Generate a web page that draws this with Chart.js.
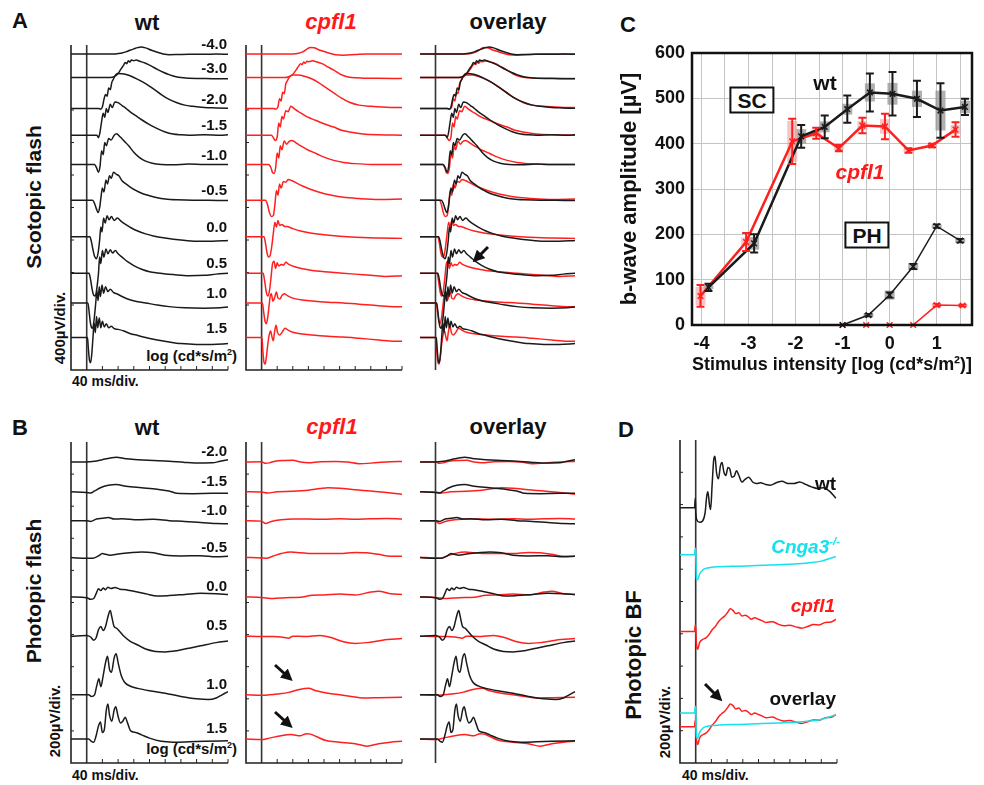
<!DOCTYPE html>
<html>
<head>
<meta charset="utf-8">
<script src="https://cdn.jsdelivr.net/npm/chart.js@4.4.1/dist/chart.umd.min.js"></script>
<style>
  body { margin: 0; background: #fff; }
  #fig { position: relative; width: 984px; height: 785px; overflow: hidden;
         font-family: "Liberation Sans", Arial, sans-serif; font-weight: bold; color: #111; }
  #fig canvas { position: absolute; }
  .t, .r, .l, .v { position: absolute; white-space: nowrap; line-height: 1; }
  .t { transform: translate(-50%, -50%); }
  .r { transform: translate(-100%, -50%); }
  .l { transform: translate(0, -50%); }
  .v { transform: translate(-50%, -50%) rotate(-90deg); }
  .red { color: #ff1a1a; font-style: italic; }
  .cyan { color: #12e2ee; font-style: italic; }
  .box { border: 2px solid #111; background: #fff; padding: 1px 6px; }
  sup { font-size: 60%; }
</style>
</head>
<body>
<div id="fig">
  <div class="t" style="left:20px;top:21px;font-size:22px">A</div>
  <div class="t" style="left:147px;top:23px;font-size:22px">wt</div>
  <div class="t red" style="left:331px;top:22px;font-size:22px">cpfl1</div>
  <div class="t" style="left:508px;top:22px;font-size:22px">overlay</div>
  <div class="v" style="left:33px;top:197px;font-size:21px">Scotopic flash</div>
  <div class="v" style="left:59px;top:328px;font-size:15px">400µV/div.</div>
  <div class="l" style="left:72px;top:381px;font-size:14px">40 ms/div.</div>
  <div class="r" style="left:237px;top:355px;font-size:15px">log (cd*s/m<sup>2</sup>)</div>

  <div class="t" style="left:20px;top:428px;font-size:22px">B</div>
  <div class="t" style="left:147px;top:428px;font-size:22px">wt</div>
  <div class="t red" style="left:332px;top:427px;font-size:22px">cpfl1</div>
  <div class="t" style="left:508px;top:427px;font-size:22px">overlay</div>
  <div class="v" style="left:33px;top:591px;font-size:21px">Photopic flash</div>
  <div class="v" style="left:54px;top:721px;font-size:15px">200µV/div.</div>
  <div class="l" style="left:72px;top:775px;font-size:14px">40 ms/div.</div>
  <div class="r" style="left:237px;top:748px;font-size:15px">log (cd*s/m<sup>2</sup>)</div>

  <div class="t" style="left:628px;top:25px;font-size:22px">C</div>

  <div class="t" style="left:626px;top:430px;font-size:22px">D</div>
  <div class="v" style="left:634px;top:655px;font-size:22px">Photopic BF</div>
  <div class="v" style="left:664px;top:722px;font-size:15px">200µV/div.</div>
  <div class="l" style="left:682px;top:775px;font-size:14px">40 ms/div.</div>
</div>
<script>
// ---------- scotopic flash traces (ms, µV re. baseline) ----------
const scotLabels = ['-4.0', '-3.0', '-2.0', '-1.5', '-1.0', '-0.5', '0.0', '0.5', '1.0', '1.5'];

const wtS_m40 = [[-40,0],[70,0],[80,5],[90,12],[100,25],[110,45],[120,62],[130,78],[138,86],[150,75],[165,45],[180,20],[195,0],[210,-10],[230,-8],[260,-3],[300,-5],[330,-2],[360,-3]];
const wtS_m30 = [[-40,0],[60,0],[70,10],[80,50],[88,110],[94,150],[98,185],[102,170],[106,205],[110,190],[114,215],[120,205],[126,215],[135,200],[150,175],[165,140],[180,100],[195,65],[210,35],[225,12],[240,0],[260,-10],[290,-12],[320,-15],[360,-15]];
const wtS_m20 = [[-40,0],[30,0],[36,-10],[40,20],[44,110],[48,170],[52,150],[56,250],[60,230],[64,320],[68,360],[72,400],[78,430],[90,425],[105,410],[120,380],[135,345],[150,305],[170,240],[190,170],[210,110],[230,70],[250,40],[270,25],[300,10],[330,5],[360,0]];
const wtS_m15 = [[-40,0],[26,0],[30,-30],[34,40],[38,170],[42,270],[46,220],[50,330],[54,280],[60,380],[65,340],[72,410],[80,400],[90,365],[100,330],[110,290],[125,240],[140,190],[160,130],[180,80],[200,40],[220,15],[240,5],[260,0],[300,5],[340,0],[360,5]];
const wtS_m10 = [[-40,0],[20,0],[25,-40],[30,-95],[34,-20],[38,170],[42,120],[46,270],[50,230],[56,320],[62,300],[70,360],[76,377],[85,340],[95,290],[107,230],[120,150],[133,90],[150,40],[167,15],[190,0],[220,-5],[260,5],[300,0],[360,0]];
const wtS_m05 = [[-40,0],[15,0],[20,-40],[25,-110],[29,-150],[33,-90],[37,60],[40,150],[44,100],[49,250],[53,200],[58,300],[63,270],[68,345],[75,320],[82,300],[90,240],[100,200],[110,165],[125,120],[140,85],[160,55],[180,30],[200,15],[230,5],[270,0],[310,0],[360,-5]];
const wtS_p00 = [[-40,0],[8,0],[12,-60],[16,-160],[20,-240],[25,-270],[29,-200],[33,-40],[36,120],[39,60],[43,230],[47,170],[52,260],[57,210],[63,250],[70,200],[78,230],[88,190],[100,150],[115,105],[130,70],[150,35],[170,10],[200,-15],[240,-40],[280,-55],[320,-55],[360,-45]];
const wtS_p05 = [[-40,0],[6,0],[10,-80],[14,-200],[18,-270],[22,-280],[26,-180],[30,0],[33,200],[36,120],[40,280],[44,200],[49,300],[54,240],[60,290],[66,250],[73,280],[80,240],[90,200],[105,140],[120,95],[140,50],[160,20],[180,5],[220,-15],[260,-30],[300,-25],[330,-10],[360,0]];
const wtS_p10 = [[-40,0],[3,0],[6,-100],[9,-230],[12,-300],[15,-310],[19,-200],[23,0],[26,150],[29,30],[32,200],[35,80],[39,220],[43,120],[48,200],[54,140],[60,170],[68,130],[78,110],[90,80],[110,40],[130,15],[150,0],[180,-25],[210,-45],[250,-60],[300,-65],[340,-60],[360,-50]];
const wtS_p15 = [[-40,0],[2,0],[4,-120],[7,-280],[10,-310],[13,-200],[16,0],[19,180],[22,60],[25,260],[28,120],[32,240],[36,120],[40,200],[45,130],[50,170],[56,120],[63,140],[70,110],[80,100],[95,80],[110,50],[130,25],[150,0],[180,-30],[210,-55],[240,-75],[280,-85],[320,-85],[360,-75]];

const cpS_m40 = [[-40,0],[80,0],[95,8],[105,25],[115,55],[125,80],[135,75],[150,45],[170,15],[190,-10],[210,-16],[240,-8],[270,0],[360,0]];
const cpS_m30 = [[-40,0],[60,0],[70,10],[80,40],[88,90],[95,140],[100,170],[104,160],[108,190],[112,175],[116,200],[122,195],[130,205],[140,195],[155,170],[170,130],[185,90],[200,45],[215,15],[230,0],[260,-8],[300,-10],[360,-12]];
const cpS_m20 = [[-40,0],[30,0],[36,-10],[42,20],[46,120],[50,90],[54,200],[58,180],[62,300],[66,340],[72,390],[80,410],[95,410],[110,395],[125,370],[145,320],[165,255],[185,190],[205,125],[225,75],[250,40],[280,25],[320,15],[360,10]];
const cpS_m15 = [[-40,0],[25,0],[30,-30],[35,-65],[40,-20],[44,150],[48,100],[52,230],[56,200],[62,300],[68,290],[75,357],[85,320],[100,275],[117,225],[140,180],[160,140],[185,100],[205,60],[230,35],[260,15],[300,5],[360,0]];
const cpS_m10 = [[-40,0],[18,0],[24,-40],[28,-100],[32,-110],[36,-40],[40,140],[44,80],[48,230],[52,180],[58,290],[64,250],[70,280],[78,295],[90,260],[105,215],[120,175],[140,135],[160,90],[185,50],[210,25],[240,10],[280,0],[360,0]];
const cpS_m05 = [[-40,0],[10,0],[15,-50],[20,-150],[25,-200],[30,-190],[34,-60],[38,120],[42,60],[46,200],[50,150],[56,230],[62,220],[68,255],[78,240],[90,210],[105,175],[125,135],[150,95],[180,60],[210,35],[250,20],[300,10],[360,15]];
const cpS_p00 = [[-40,0],[6,0],[10,-80],[14,-200],[18,-250],[22,-230],[26,-120],[30,40],[34,180],[38,120],[42,200],[46,140],[52,150],[58,130],[66,125],[80,100],[100,70],[125,45],[150,30],[180,15],[220,0],[260,-10],[300,-15],[360,-20]];
const cpS_p05 = [[-40,0],[4,0],[8,-100],[12,-230],[16,-280],[20,-220],[24,-60],[28,120],[32,150],[36,60],[40,130],[44,90],[50,110],[56,100],[62,135],[70,110],[85,80],[105,55],[130,35],[160,20],[200,5],[240,-10],[280,-25],[320,-40],[360,-30]];
const cpS_p10 = [[-40,0],[2,0],[5,-100],[9,-230],[12,-255],[15,-200],[19,-40],[22,80],[25,115],[29,20],[33,60],[38,135],[42,60],[47,50],[52,90],[58,115],[66,90],[80,60],[100,40],[130,25],[170,10],[210,0],[250,-15],[300,-35],[340,-45],[360,-45]];
const cpS_p15 = [[-40,0],[1,0],[3,-150],[6,-300],[9,-330],[12,-250],[16,-80],[19,20],[23,80],[27,0],[30,-40],[33,60],[37,150],[41,60],[46,30],[52,60],[60,115],[68,90],[80,65],[100,45],[130,30],[170,15],[210,5],[250,-10],[300,-30],[340,-45],[360,-45]];

// ---------- photopic flash traces ----------
const photLabels = ['-2.0', '-1.5', '-1.0', '-0.5', '0.0', '0.5', '1.0', '1.5'];

const wtP_m20 = [[-40,0],[0,0],[20,5],[40,15],[60,25],[75,30],[100,20],[130,15],[170,10],[210,5],[250,-2],[290,-6],[320,-5],[340,5],[360,15]];
const wtP_m15 = [[-40,0],[0,-5],[10,-8],[20,5],[35,25],[55,40],[75,45],[100,35],[140,25],[180,15],[210,5],[230,-10],[270,-12],[320,-10],[360,-10]];
const wtP_m10 = [[-40,0],[0,0],[10,-5],[25,10],[40,15],[55,20],[70,10],[90,12],[130,5],[170,8],[210,0],[250,-5],[290,-12],[330,-18],[360,-20]];
const wtP_m05 = [[-40,0],[0,-5],[15,-5],[30,10],[40,25],[48,20],[60,15],[80,22],[110,30],[140,35],[170,30],[200,15],[240,10],[290,12],[330,5],[360,8]];
const wtP_p00 = [[-40,0],[0,-5],[10,-15],[18,-10],[24,20],[30,50],[36,40],[42,55],[48,45],[54,60],[62,52],[72,58],[85,48],[100,45],[120,35],[150,20],[180,5],[210,8],[250,15],[290,22],[330,20],[360,15]];
const wtP_p05 = [[-40,0],[0,5],[10,-5],[18,-25],[24,-10],[30,40],[36,60],[42,35],[48,60],[54,120],[60,160],[64,120],[70,60],[76,50],[84,30],[95,0],[110,-30],[130,-55],[150,-80],[175,-95],[200,-98],[230,-90],[260,-75],[290,-60],[330,-40],[360,-30]];
const wtP_p10 = [[-40,0],[5,0],[12,-10],[20,0],[26,60],[31,100],[36,50],[42,120],[48,200],[53,240],[58,160],[63,140],[70,230],[75,255],[80,200],[88,120],[96,80],[110,55],[130,40],[160,25],[200,10],[240,-10],[280,-25],[310,-30],[330,-20],[345,0],[360,20]];
const wtP_p15 = [[-40,0],[5,0],[12,-15],[18,-20],[24,20],[30,80],[35,105],[40,40],[45,60],[50,180],[54,218],[58,150],[64,110],[70,180],[74,200],[80,140],[86,100],[92,110],[98,135],[104,100],[112,50],[125,40],[140,25],[160,5],[190,-15],[220,-20],[260,-18],[300,-15],[360,-12]];

const cpP_m20 = [[-40,0],[0,2],[10,-8],[20,-5],[35,5],[60,10],[80,12],[100,0],[120,-5],[150,2],[190,3],[220,0],[250,-10],[290,-5],[330,2],[360,4]];
const cpP_m15 = [[-40,0],[0,-2],[15,-8],[40,0],[80,3],[120,10],[150,20],[170,25],[200,22],[240,12],[280,5],[320,-5],[360,-15]];
const cpP_m10 = [[-40,0],[0,-3],[10,-18],[25,-5],[50,5],[80,10],[120,10],[160,8],[200,12],[240,8],[280,12],[320,14],[360,10]];
const cpP_m05 = [[-40,0],[0,-2],[12,-5],[30,10],[50,25],[75,35],[100,30],[130,25],[160,25],[200,25],[240,32],[270,30],[300,20],[330,8],[360,8]];
const cpP_p00 = [[-40,0],[0,-4],[30,-10],[60,-5],[100,-2],[130,10],[160,12],[200,18],[240,12],[280,30],[300,35],[330,20],[360,15]];
const cpP_p05 = [[-40,0],[0,-2],[30,-2],[50,-5],[70,-12],[80,0],[110,-2],[150,5],[180,-10],[210,-35],[240,-45],[270,-40],[310,-25],[360,-15]];
const cpP_p10 = [[-40,0],[0,-3],[20,0],[40,5],[70,15],[100,35],[120,40],[140,25],[170,10],[200,0],[230,-10],[260,-20],[300,-18],[360,-15]];
const cpP_p15 = [[-40,0],[0,-4],[20,5],[50,20],[75,27],[100,20],[115,33],[125,30],[140,15],[165,-10],[200,-20],[240,-30],[270,-45],[300,-30],[330,-20],[360,-15]];

// ---------- photopic bright flash (D) ----------
const bfWt = [[-40,0],[-3,0],[-1,60],[0,-20],[3,-75],[10,-90],[18,-80],[24,-30],[28,70],[31,100],[35,20],[38,-10],[42,150],[46,300],[49,320],[53,220],[58,180],[63,260],[67,280],[72,220],[77,200],[82,250],[87,240],[92,190],[98,195],[104,230],[110,200],[118,160],[125,175],[135,190],[145,160],[155,150],[165,155],[178,145],[190,140],[205,155],[220,165],[235,150],[250,150],[265,160],[280,145],[295,130],[310,120],[325,125],[340,105],[357,60]];
const bfCnga3 = [[-40,0],[-3,0],[-1,40],[0,20],[2,-150],[5,-155],[10,-120],[18,-95],[25,-85],[40,-78],[60,-75],[90,-72],[130,-70],[170,-66],[210,-62],[250,-58],[290,-50],[320,-40],[340,-25],[357,-12]];
const bfCpfl1 = [[-40,0],[-3,0],[-1,40],[0,20],[2,-80],[5,-110],[10,-70],[18,-50],[26,-40],[34,-20],[42,10],[50,30],[58,60],[66,80],[74,95],[82,120],[88,140],[95,130],[102,110],[110,115],[118,95],[126,100],[134,90],[142,75],[150,85],[160,75],[170,65],[180,55],[195,60],[210,45],[225,35],[240,38],[255,28],[270,20],[285,30],[300,42],[315,40],[330,55],[345,58],[357,75]];

// ---------- b-wave amplitudes (C) ----------
const cTickX  = [-4, -3.5, -3, -2.5, -2, -1.5, -1, -0.5, 0, 0.5, 1, 1.5];
const scWtX   = [-3.85, -2.88, -1.88, -1.38, -0.9, -0.42, 0.06, 0.58, 1.08, 1.6];
const scWtY   = [83, 180, 416, 437, 476, 513, 510, 499, 473, 481];
const scWtSd  = [8, 20, 25, 25, 30, 42, 48, 40, 60, 18];
const scWtSem = [4, 14, 16, 12, 12, 20, 24, 18, 44, 14];
const scCpX   = [-4.02, -3.05, -2.07, -1.56, -1.08, -0.58, -0.1, 0.4, 0.9, 1.4];
const scCpY   = [64, 183, 405, 423, 390, 440, 438, 385, 396, 431];
const scCpSd  = [24, 20, 50, 12, 7, 17, 28, 5, 4, 16];
const scCpSem = [20, 10, 45, 8, 4, 10, 16, 3, 3, 10];
const phWtX   = [-1.0, -0.45, 0.0, 0.5, 1.0, 1.5];
const phWtY   = [0, 22, 66, 129, 218, 186];
const phWtSd  = [0, 3, 6, 6, 4, 4];
const phWtSem = [0, 3, 10, 8, 3, 4];
const phCpX   = [-1.0, -0.5, 0.0, 0.5, 1.0, 1.55];
const phCpY   = [0, 0, 0, 0, 44, 43];
const phCpSd  = [0, 0, 0, 0, 3, 2];
const phCpSem = [0, 0, 0, 0, 2, 2];

// ---------- layout ----------
const scotBase = [3890, 3600, 3220, 2890, 2530, 2090, 1640, 1190, 825, 400];
const photBase = [1875, 1690, 1510, 1280, 1035, 790, 425, 150];
const BLACK = '#1a1a1a', RED = '#ff1f1f', CYAN = '#12e2ee';

const scotWt = [wtS_m40, wtS_m30, wtS_m20, wtS_m15, wtS_m10, wtS_m05, wtS_p00, wtS_p05, wtS_p10, wtS_p15];
const scotCp = [cpS_m40, cpS_m30, cpS_m20, cpS_m15, cpS_m10, cpS_m05, cpS_p00, cpS_p05, cpS_p10, cpS_p15];
const photWt = [wtP_m20, wtP_m15, wtP_m10, wtP_m05, wtP_p00, wtP_p05, wtP_p10, wtP_p15];
const photCp = [cpP_m20, cpP_m15, cpP_m10, cpP_m05, cpP_p00, cpP_p05, cpP_p10, cpP_p15];

const fig = document.getElementById('fig');

// flash marker, axes with inward ticks, intensity labels
const ergFrame = {
  id: 'ergFrame',
  beforeDatasetsDraw(chart, _args, o) {
    const { ctx, chartArea: a } = chart;
    const x = chart.scales.x, y = chart.scales.y;
    ctx.save();
    ctx.strokeStyle = '#333';
    ctx.lineWidth = 1.6;
    const fx = x.getPixelForValue(0);
    ctx.beginPath();
    ctx.moveTo(fx, a.top);
    ctx.lineTo(fx, a.bottom);
    ctx.stroke();
    if (o.axes) {
      ctx.strokeStyle = '#222';
      ctx.beginPath();
      ctx.moveTo(a.left, a.top);
      ctx.lineTo(a.left, a.bottom);
      ctx.lineTo(a.right, a.bottom);
      ctx.stroke();
      ctx.lineWidth = 1;
      ctx.beginPath();
      for (let t = 40; t <= x.max; t += 40) {
        const px = x.getPixelForValue(t);
        ctx.moveTo(px, a.bottom);
        ctx.lineTo(px, a.bottom - 4);
      }
      for (let v = o.yStep; v < y.max; v += o.yStep) {
        const py = y.getPixelForValue(v);
        ctx.moveTo(a.left, py);
        ctx.lineTo(a.left + 3, py);
      }
      ctx.stroke();
    }
    ctx.restore();
  },
  afterDatasetsDraw(chart, _args, o) {
    if (!o.labels) return;
    const { ctx, chartArea: a } = chart;
    const y = chart.scales.y;
    ctx.save();
    ctx.fillStyle = '#111';
    ctx.font = 'bold 15px "Liberation Sans", Arial, sans-serif';
    ctx.textAlign = 'right';
    ctx.textBaseline = 'middle';
    o.labels.forEach((lab, i) => {
      ctx.fillText(lab, a.right - 1, y.getPixelForValue(o.base[i]) - o.gap);
    });
    ctx.restore();
  }
};

function traceChart(area, yMax, series, frame) {
  const m = 14;
  const cv = document.createElement('canvas');
  cv.width = area[2] - area[0] + 2 * m;
  cv.height = area[3] - area[1] + 2 * m;
  cv.style.left = (area[0] - m) + 'px';
  cv.style.top = (area[1] - m) + 'px';
  fig.appendChild(cv);
  const datasets = [];
  series.forEach(s => s.traces.forEach((tr, i) => datasets.push({
    data: tr.map(([t, v]) => ({ x: t, y: v + s.base[i] })),
    borderColor: s.color,
    borderWidth: 1.5,
    pointRadius: 0,
    cubicInterpolationMode: 'monotone',
    clip: m
  })));
  return new Chart(cv, {
    type: 'line',
    data: { datasets },
    options: {
      responsive: false,
      animation: false,
      events: [],
      layout: { padding: m },
      plugins: { legend: { display: false }, tooltip: { enabled: false }, ergFrame: frame },
      scales: {
        x: { type: 'linear', min: -40, max: 360, display: false },
        y: { min: 0, max: yMax, display: false }
      }
    },
    plugins: [ergFrame]
  });
}

// A: scotopic
traceChart([71, 45, 228, 370], 4000, [{ traces: scotWt, base: scotBase, color: BLACK }],
  { axes: true, yStep: 400, labels: scotLabels, base: scotBase, gap: 9 });
traceChart([246, 45, 402, 370], 4000, [{ traces: scotCp, base: scotBase, color: RED }],
  { axes: true, yStep: 400 });
traceChart([420, 45, 575, 370], 4000, [
  { traces: scotWt, base: scotBase, color: BLACK },
  { traces: scotCp, base: scotBase, color: RED }], { axes: false });

// B: photopic
traceChart([71, 442, 228, 763], 2000, [{ traces: photWt, base: photBase, color: BLACK }],
  { axes: true, yStep: 200, labels: photLabels, base: photBase, gap: 10 });
traceChart([246, 442, 402, 763], 2000, [{ traces: photCp, base: photBase, color: RED }],
  { axes: true, yStep: 200 });
traceChart([420, 442, 575, 763], 2000, [
  { traces: photWt, base: photBase, color: BLACK },
  { traces: photCp, base: photBase, color: RED }], { axes: false });

// D: photopic bright flash
traceChart([680, 440, 837, 763], 2000, [
  { traces: [bfWt], base: [1580], color: BLACK },
  { traces: [bfCnga3, bfCnga3], base: [1290, 310], color: CYAN },
  { traces: [bfCpfl1, bfCpfl1], base: [815, 225], color: RED }], { axes: true, yStep: 200 });

// C: b-wave amplitude
const errBars = {
  id: 'errBars',
  beforeDatasetsDraw(chart) {
    const { ctx } = chart;
    const x = chart.scales.x, y = chart.scales.y;
    ctx.save();
    chart.data.datasets.forEach(ds => {
      ctx.fillStyle = ds.boxColor;
      ds.data.forEach((p, i) => {
        if (!ds.sem[i]) return;
        const px = x.getPixelForValue(p.x);
        const top = y.getPixelForValue(p.y + ds.sem[i]);
        const bot = y.getPixelForValue(p.y - ds.sem[i]);
        ctx.fillRect(px - 5, top, 10, bot - top);
      });
    });
    ctx.restore();
  },
  afterDatasetsDraw(chart) {
    const { ctx, chartArea: a } = chart;
    const x = chart.scales.x, y = chart.scales.y;
    ctx.save();
    chart.data.datasets.forEach(ds => {
      ctx.strokeStyle = ds.borderColor;
      ctx.lineWidth = ds.capWidth;
      ds.data.forEach((p, i) => {
        if (!ds.sd[i]) return;
        const px = x.getPixelForValue(p.x);
        const top = y.getPixelForValue(p.y + ds.sd[i]);
        const bot = y.getPixelForValue(p.y - ds.sd[i]);
        ctx.beginPath();
        ctx.moveTo(px, top); ctx.lineTo(px, bot);
        ctx.moveTo(px - 4, top); ctx.lineTo(px + 4, top);
        ctx.moveTo(px - 4, bot); ctx.lineTo(px + 4, bot);
        ctx.stroke();
      });
    });
    ctx.strokeStyle = '#111';
    ctx.lineWidth = 2.5;
    ctx.strokeRect(a.left, a.top, a.right - a.left, a.bottom - a.top);
    ctx.restore();
  }
};

function ampSet(xs, ys, sd, sem, color, box, width) {
  return {
    data: xs.map((v, i) => ({ x: v, y: ys[i] })),
    sd, sem, boxColor: box, capWidth: width > 2 ? 2 : 1.5,
    borderColor: color, borderWidth: width,
    pointStyle: 'crossRot', pointRadius: 4, pointBorderWidth: 1.5,
    pointBorderColor: color, pointBackgroundColor: color, clip: false
  };
}

const cC = document.createElement('canvas');
cC.width = 384; cC.height = 395;
cC.style.left = '600px'; cC.style.top = '0px';
fig.appendChild(cC);
const tickFont = { family: '"Liberation Sans", Arial, sans-serif', weight: 'bold', size: 18 };
new Chart(cC, {
  type: 'line',
  data: {
    datasets: [
      ampSet(phWtX, phWtY, phWtSd, phWtSem, BLACK, 'rgba(150,150,150,0.75)', 1.5),
      ampSet(phCpX, phCpY, phCpSd, phCpSem, RED, 'rgba(240,150,150,0.6)', 1.5),
      ampSet(scWtX, scWtY, scWtSd, scWtSem, BLACK, 'rgba(150,150,150,0.75)', 2.5),
      ampSet(scCpX, scCpY, scCpSd, scCpSem, RED, 'rgba(240,160,160,0.6)', 2.5)
    ]
  },
  options: {
    responsive: false,
    animation: false,
    events: [],
    layout: { padding: { left: 0, top: 53, right: 12, bottom: 0 } },
    plugins: { legend: { display: false }, tooltip: { enabled: false } },
    scales: {
      x: {
        type: 'linear', min: -4.2, max: 1.75,
        afterFit: s => { s.height = 70; },
        afterBuildTicks: s => { s.ticks = cTickX.map(v => ({ value: v })); },
        grid: { color: '#c4c4c4', drawTicks: false },
        border: { display: false },
        ticks: { padding: 8, color: '#111', font: tickFont,
                 callback: v => Number.isInteger(v) ? v : '' },
        title: { display: true, text: 'Stimulus intensity [log (cd*s/m²)]', color: '#111',
                 font: { family: tickFont.family, weight: 'bold', size: 19 }, padding: { top: 0, bottom: 19 } }
      },
      y: {
        min: 0, max: 600,
        afterFit: s => { s.width = 92; },
        grid: { color: '#c4c4c4', drawTicks: false },
        border: { display: false },
        ticks: { stepSize: 50, padding: 7, color: '#111', font: tickFont,
                 callback: v => v % 100 === 0 ? v : '' },
        title: { display: true, text: 'b-wave amplitude [µV]', color: '#111',
                 font: { family: tickFont.family, weight: 'bold', size: 22 }, padding: { top: 17, bottom: 0 } }
      }
    }
  },
  plugins: [errBars]
});

// text on top of the plots
fig.insertAdjacentHTML('beforeend', `
  <div class="t box" style="left:752px;top:100px;font-size:21px">SC</div>
  <div class="t box" style="left:867px;top:235px;font-size:21px">PH</div>
  <div class="t" style="left:825px;top:82px;font-size:21px">wt</div>
  <div class="t red" style="left:860px;top:171px;font-size:21px">cpfl1</div>
  <div class="r" style="left:836px;top:483px;font-size:19px">wt</div>
  <div class="r cyan" style="left:840px;top:546px;font-size:19px">Cnga3<sup>-/-</sup></div>
  <div class="r red" style="left:835px;top:605px;font-size:19px">cpfl1</div>
  <div class="r" style="left:836px;top:698px;font-size:19px">overlay</div>
  <svg width="984" height="785" style="position:absolute;left:0;top:0">
    <defs><marker id="ah" markerWidth="4" markerHeight="4" refX="1" refY="2" orient="auto">
      <path d="M0,0 L4,2 L0,4 z" fill="#111"/></marker></defs>
    <g stroke="#111" stroke-width="3" marker-end="url(#ah)">
      <line x1="488" y1="247" x2="479" y2="256"/>
      <line x1="275" y1="665" x2="286" y2="675"/>
      <line x1="275" y1="712" x2="286" y2="722"/>
      <line x1="705" y1="684" x2="716" y2="695"/>
    </g>
  </svg>`);
</script>
</body>
</html>
